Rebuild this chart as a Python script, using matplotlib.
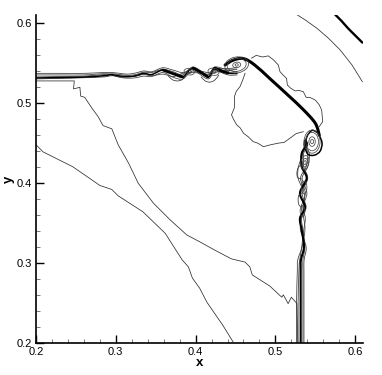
import matplotlib
matplotlib.use("Agg")
import matplotlib.pyplot as plt
from matplotlib.patches import Ellipse, PathPatch
from matplotlib.path import Path

plt.rcParams['font.family'] = ['Liberation Sans', 'DejaVu Sans']

# ---- thin isolated contours
low_x = [.2,.209,.246,.27,.28,.295,.303,.334,.362,.383,.391,.396,.405,.414,.434,.447]
low_y = [.448,.439,.4205,.404,.397,.392,.384,.364,.337,.304,.295,.281,.2685,.251,.222,.201]
up_x = [.2,.248,.247,.255,.256,.261,.27,.278,.284,.295,.303,.316,.328,.347,.368,.389,.405,.424,.445,.462,.468,.471,.493,.508,.51,.516,.52,.527,.528]
up_y = [.528,.528,.518,.52,.509,.5075,.494,.483,.472,.468,.448,.425,.40,.375,.354,.335,.3265,.316,.305,.301,.295,.285,.271,.257,.26,.249,.257,.249,.201]
arc_x = [.527,.538,.552,.566,.581,.596,.609]
arc_y = [.611,.604,.594,.582,.567,.548,.527]
loop_a_x = [.462,.459,.4556,.451,.4485,.449,.4485,.445,.448,.4515,.456,.46,.466,.472,.478,.485,.494,.5036,.511,.518,.526,.535]
loop_a_y = [.5376,.529,.5208,.515,.508,.501,.494,.4855,.479,.473,.469,.4625,.458,.452,.450,.4456,.448,.45,.451,.456,.462,.4644]
loop_b_x = [.47,.476,.484,.4911,.498,.5036,.5058,.509,.514,.515,.519,.5246,.53,.535,.5385,.544,.55,.555,.558,.5593,.555]
loop_b_y = [.5565,.56,.558,.5594,.554,.548,.5396,.536,.5312,.5229,.519,.5155,.516,.5145,.5075,.507,.504,.498,.4915,.477,.4707]
# ---- thick outer front and shock
outer_x = [.575,.583,.591,.600,.609]
outer_y = [.611,.603,.594,.585,.576]
shock_x = [.437,.447,.46,.474,.493,.516,.535,.55,.555]
shock_y = [.548,.554,.556,.548,.531,.51,.492,.475,.46]
ring_x = [.555,.5585,.556,.549,.541,.5375,.5395,.546,.553]
ring_y = [.46,.45,.44,.435,.436,.445,.458,.466,.463]
# ---- horizontal roll-up band
top_x = [.2,.23,.26,.285,.295,.305,.315,.325,.335,.345,.359,.372,.384,.397,.4155,.424,.4406,.452]
top_a = [.5317,.5322,.5328,.5345,.5358,.5342,.5335,.5345,.5375,.536,.5417,.537,.533,.544,.533,.544,.538,.5375]
top_b = [.5305,.5312,.532,.533,.5345,.533,.533,.534,.536,.5345,.5365,.5335,.5375,.5385,.5365,.5385,.5415,.5425]
top_c = [.5330,.5335,.534,.536,.537,.536,.535,.536,.539,.5385,.5425,.5395,.5355,.5455,.5355,.5455,.5415,.5395]
top_d = [.5375,.5375,.5375,.5385,.5385,.5375,.5365,.538,.5405,.5395,.5445,.5415,.5385,.5425,.5385,.5425,.5435,.5445]
top_e = [.5355,.5355,.5355,.537,.5355,.5325,.5315,.532,.534,.5335,.5385,.5325,.5305,.5405,.5305,.5405,.5355,.5355]
# darker falling legs of the wave
leg_x = [[.359,.372,.384],[.397,.407,.4155],[.424,.432,.4406]]
leg_y = [[.5417,.537,.533],[.544,.5385,.533],[.544,.5405,.538]]
# small loops under the band
dip_x = [[.366,.371,.377,.383,.388],[.407,.412,.418,.424,.429]]
dip_y = [[.534,.5295,.528,.5295,.535],[.533,.528,.5265,.529,.535]]
# ---- vertical roll-up band
side_y = [.2,.25,.29,.3037,.32,.341,.356,.37,.3876,.406,.4206,.4373,.4477,.4535]
side_a = [.5317,.5317,.5317,.532,.5358,.533,.5308,.5371,.5308,.5392,.533,.533,.5392,.5375]
side_b = [.5265,.5265,.5275,.528,.5335,.537,.5355,.5325,.5375,.5315,.5385,.5405,.5355,.537]
side_c = [.5285,.5285,.5295,.5305,.533,.5355,.5375,.5345,.5395,.5335,.5405,.5425,.537,.536]
side_d = [.5345,.5345,.5345,.5345,.537,.5345,.533,.5385,.5335,.5405,.5355,.5355,.5405,.5385]
side_e = [.5358,.5358,.5358,.536,.5385,.5315,.5325,.5355,.536,.5285,.529,.5345,.536,.537]
# small loops left of the band
nub_x = [[.535,.529,.527,.528,.533],[.534,.5295,.5285,.530,.534]]
nub_y = [[.424,.420,.413,.407,.405],[.388,.385,.378,.372,.370]]
# ---- eyes of the roll-ups: centre x, centre y, width, height, tilt
eye_x = [.4515,.4515,.4515,.4515,.546,.546,.546,.546,.537,.537,.537,.4225,.4225,.392,.392,.536,.534]
eye_y = [.548,.548,.548,.548,.452,.452,.452,.452,.4256,.4256,.4256,.5395,.5395,.5395,.5395,.3945,.365]
eye_w = [.030,.024,.010,.004,.020,.016,.008,.004,.010,.006,.003,.014,.006,.013,.006,.007,.006]
eye_h = [.020,.016,.007,.003,.029,.023,.012,.005,.018,.011,.005,.009,.004,.008,.004,.016,.014]
eye_a = [10,10,10,10,0,0,0,0,-10,-10,-10,-10,-10,-10,-10,0,0]

tick_major = [.2,.3,.4,.5,.6]
tick_labels = ['0.2','0.3','0.4','0.5','0.6']
tick_minor = [.22,.24,.26,.28,.32,.34,.36,.38,.42,.44,.46,.48,.52,.54,.56,.58]

fig = plt.figure(figsize=(3.82, 3.75), dpi=100)
ax = fig.add_axes([36/382, 1-342.7/375, 327/382, 327.7/375])
ax.set_xlim(.2, .6098)
ax.set_ylim(.2, .6106)


def smooth(xs, ys, **kw):
    """Draw a smooth Bezier through the read points."""
    verts = [(xs[0], ys[0])]
    codes = [Path.MOVETO]
    n = len(xs)
    for i in range(n - 1):
        p0 = (xs[max(i-1, 0)], ys[max(i-1, 0)])
        p1 = (xs[i], ys[i])
        p2 = (xs[i+1], ys[i+1])
        p3 = (xs[min(i+2, n-1)], ys[min(i+2, n-1)])
        verts += [(p1[0]+(p2[0]-p0[0])/6, p1[1]+(p2[1]-p0[1])/6),
                  (p2[0]-(p3[0]-p1[0])/6, p2[1]-(p3[1]-p1[1])/6), p2]
        codes += [Path.CURVE4]*3
    ax.add_patch(PathPatch(Path(verts, codes), fill=False, capstyle='round', **kw))


thin = dict(color='#2e2e2e', lw=0.55, solid_joinstyle='round')
for xs, ys in [(low_x, low_y), (up_x, up_y), (arc_x, arc_y), (loop_a_x, loop_a_y), (loop_b_x, loop_b_y)]:
    ax.plot(xs, ys, **thin)
for ys in (top_b, top_c, top_d, top_e):
    smooth(top_x, ys, ec='#383838', lw=0.55)
smooth(top_x, top_a, ec='black', lw=1.1)
for xs, ys in zip(leg_x, leg_y):
    smooth(xs, ys, ec='black', lw=2.0)
for xs, ys in zip(dip_x, dip_y):
    smooth(xs, ys, ec='#333333', lw=0.55)
for xs in (side_b, side_c, side_d, side_e):
    smooth(xs, side_y, ec='#444444', lw=0.6)
smooth(side_a, side_y, ec='black', lw=1.5)
for xs, ys in zip(nub_x, nub_y):
    smooth(xs, ys, ec='#333333', lw=0.55)
smooth(outer_x, outer_y, ec='black', lw=1.7)
smooth(shock_x, shock_y, ec='black', lw=2.2)
smooth(ring_x, ring_y, ec='black', lw=1.1)
for x, y, w, h, a in zip(eye_x, eye_y, eye_w, eye_h, eye_a):
    ax.add_patch(Ellipse((x, y), w, h, angle=a, fill=False, ec='#444444', lw=0.55))

for s in ('top', 'right'):
    ax.spines[s].set_visible(False)
for s in ('left', 'bottom'):
    ax.spines[s].set_linewidth(1.2)
ax.set_xticks(tick_major)
ax.set_xticklabels(tick_labels)
ax.set_yticks(tick_major)
ax.set_yticklabels(tick_labels)
ax.set_xticks(tick_minor, minor=True)
ax.set_yticks(tick_minor, minor=True)
ax.tick_params(which='major', direction='in', length=6, width=1.0, labelsize=8, pad=3)
ax.tick_params(which='minor', direction='in', length=3, width=0.5, color='#444444')
ax.set_xlabel('x', fontsize=9.5, fontweight='bold', labelpad=0)
ax.set_ylabel('y', fontsize=9.5, fontweight='bold', labelpad=1)
fig.savefig('out.png', dpi=100)
